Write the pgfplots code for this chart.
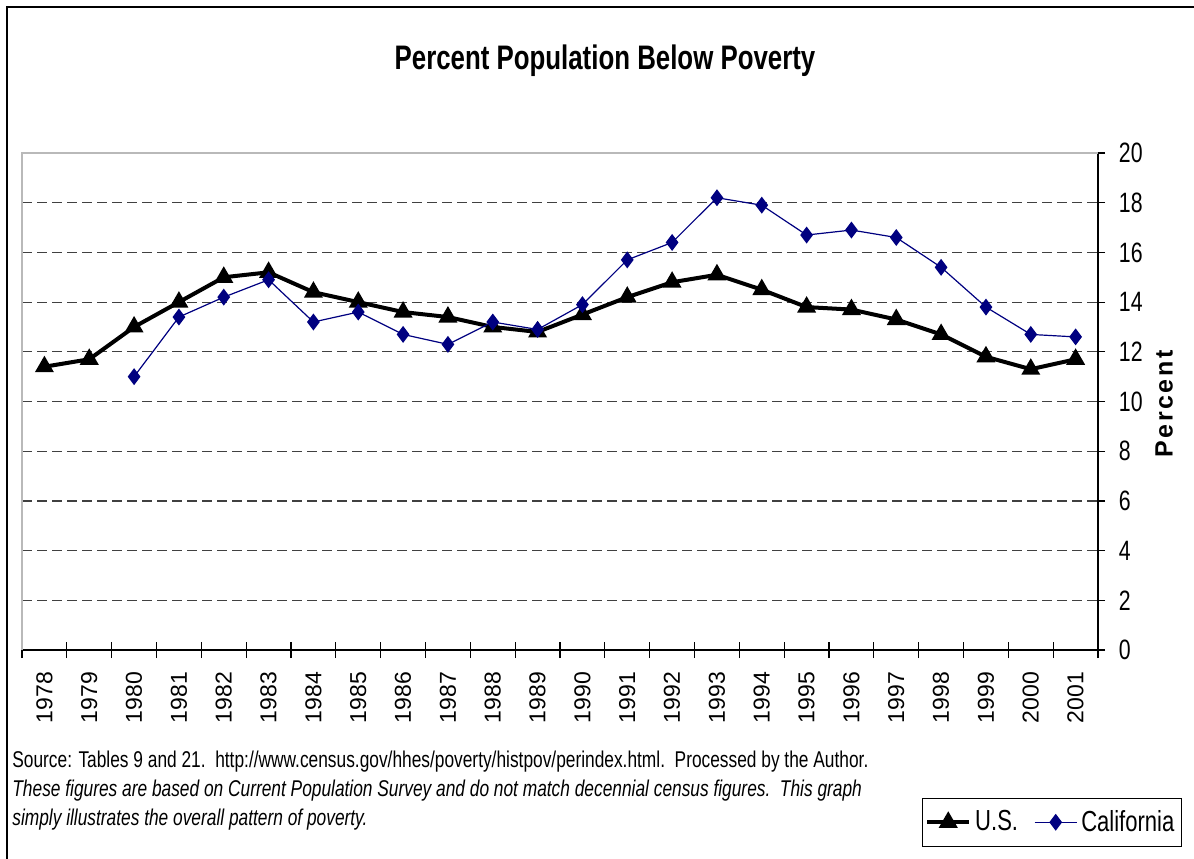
\documentclass[border=0pt]{standalone}
\usepackage{pgfplots}
\pgfplotsset{compat=1.18}
\usepackage{fontspec}
\setmainfont{Liberation Sans}[FakeStretch=0.76]
\newfontfamily\rotfont{Liberation Sans}
\newfontfamily\spfont{Liberation Sans}[LetterSpace=10]
\definecolor{navyca}{HTML}{000080}
\definecolor{gridc}{HTML}{404040}
\begin{document}
\begin{tikzpicture}
\begin{scope}[x=0.5bp,y=-0.5bp]
\useasboundingbox (0,0) rectangle (1194,858);
\draw[line width=1bp] (7,870) -- (7,7) -- (1200,7);
\node[anchor=base, font=\fontsize{17bp}{20bp}\selectfont\bfseries] at (605,69) {Percent Population Below Poverty};
\node[rotate=90, font=\spfont\bfseries\fontsize{12.5bp}{14bp}\selectfont, inner sep=0pt] at (1164,404) {Percent};
\node[anchor=base west, font=\fontsize{11.4bp}{13bp}\selectfont, inner sep=0pt] at (12,767) {Source: Tables 9 and 21.\ \ http://www.census.gov/hhes/poverty/histpov/perindex.html.\ \ Processed by the Author.};
\node[anchor=base west, font=\fontsize{11.4bp}{13bp}\selectfont\itshape, inner sep=0pt] at (12,796) {These figures are based on Current Population Survey and do not match decennial census figures.\ \ This graph};
\node[anchor=base west, font=\fontsize{11.4bp}{13bp}\selectfont\itshape, inner sep=0pt] at (12,825) {simply illustrates the overall pattern of poverty.};
\end{scope}
\begin{axis}[at={(11bp,-325bp)}, anchor=south west, width=538bp, height=248.5bp, scale only axis,
  xmin=1977.5, xmax=2001.5, ymin=0, ymax=20,
  axis x line*=bottom, axis y line*=right,
  axis line style={black, line width=0.6bp},
  /pgf/number format/assume math mode=true,
  /pgf/number format/1000 sep={},
  xtick={1978,...,2001},
  minor xtick={1977.5,1978.5,...,2001.5},
  ytick={0,2,...,20},
  tick align=center,
  minor tick length=8bp, major tick length=3.5bp,
  every major x tick/.append style={draw=none},
  every major y tick/.append style={xshift=1.75bp},
  tick style={black, line width=0.6bp},
  ymajorgrids,
  grid style={gridc, dash pattern=on 5bp off 2.5bp, line width=0.6bp},
  xticklabel style={font=\rotfont\fontsize{11.5bp}{12bp}\selectfont, rotate=90, anchor=east, inner sep=0pt},
  xticklabel shift=9bp,
  yticklabel style={font=\fontsize{14bp}{16bp}\selectfont, anchor=west, inner sep=0pt},
  yticklabel shift=8.5bp,
  clip=false,
  legend columns=2,
  legend style={at={(1.078,-0.396)}, anchor=south east, draw=black, line width=0.6bp,
    font=\fontsize{14.5bp}{16bp}\selectfont, inner xsep=1.5bp, inner ysep=4bp,
    /tikz/every even column/.append style={column sep=6bp}},
  legend image code/.code={\draw[mark repeat=2,mark phase=2,#1] plot coordinates {(0bp,0bp) (10.5bp,0bp) (21bp,0bp)};},
]
\draw[gray!55, line width=0.8bp] (rel axis cs:0,0) -- (rel axis cs:0,1) -- (rel axis cs:1,1);
\addplot[black, line width=2bp, mark=triangle*, mark size=3.5bp, mark options={solid}] coordinates {
(1978,11.4) (1979,11.7) (1980,13.0) (1981,14.0) (1982,15.0) (1983,15.2) (1984,14.4) (1985,14.0)
(1986,13.6) (1987,13.4) (1988,13.0) (1989,12.8) (1990,13.5) (1991,14.2) (1992,14.8) (1993,15.1)
(1994,14.5) (1995,13.8) (1996,13.7) (1997,13.3) (1998,12.7) (1999,11.8) (2000,11.3) (2001,11.7)};
\addlegendentry{U.S.}
\addplot[navyca, line width=0.6bp, mark=diamond*, mark size=3.75bp, mark options={solid}] coordinates {
(1980,11.0) (1981,13.4) (1982,14.2) (1983,14.9) (1984,13.2) (1985,13.6)
(1986,12.7) (1987,12.3) (1988,13.2) (1989,12.9) (1990,13.9) (1991,15.7) (1992,16.4) (1993,18.2)
(1994,17.9) (1995,16.7) (1996,16.9) (1997,16.6) (1998,15.4) (1999,13.8) (2000,12.7) (2001,12.6)};
\addlegendentry{California}
\end{axis}
\end{tikzpicture}
\end{document}
